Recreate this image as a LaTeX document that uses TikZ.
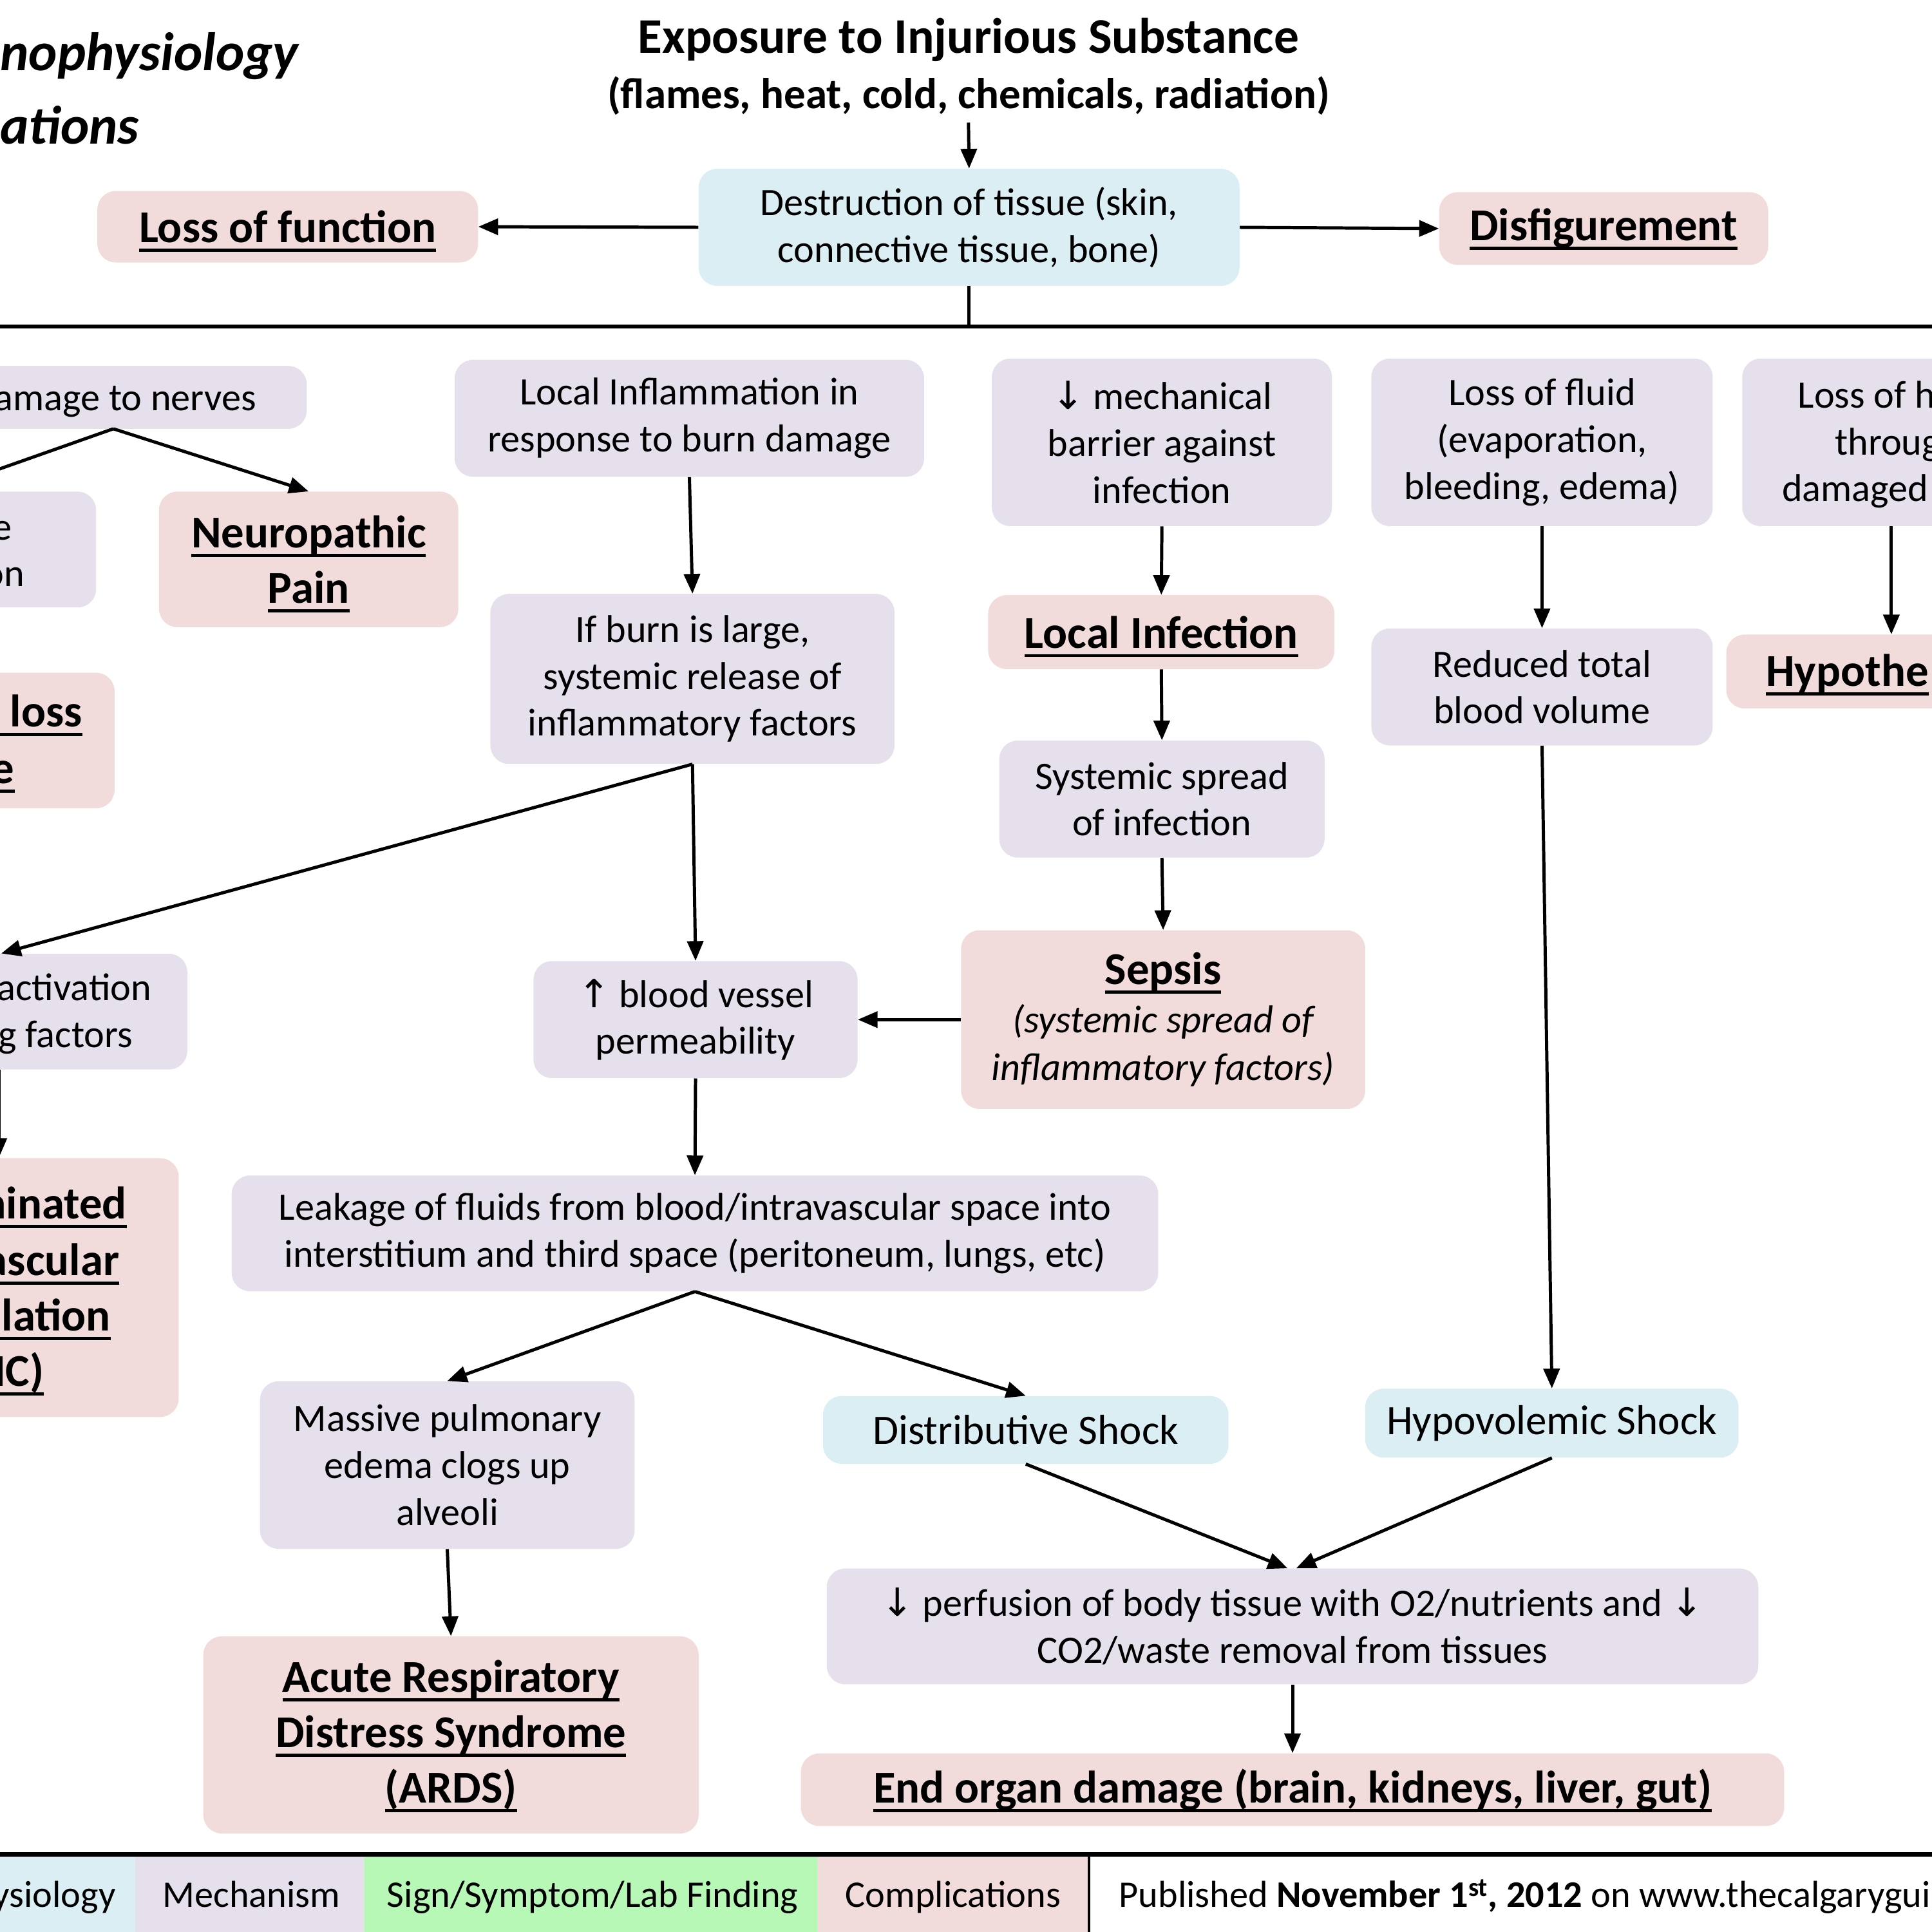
\documentclass[tikz,border=0pt]{standalone}
\usepackage{fontspec}
\setmainfont{Carlito}
\newfontfamily\symfont{DejaVu Sans}
\usetikzlibrary{arrows.meta,calc}
\definecolor{physc}{HTML}{DBEEF4}
\definecolor{mechc}{HTML}{E5E0EC}
\definecolor{compc}{HTML}{F2DCDB}
\definecolor{signc}{HTML}{B7F8B7}
\newcommand\fz[2]{\fontsize{#1}{#2}\selectfont}
\newcommand\ul[1]{\setbox0\hbox{#1}\rlap{\smash{\rule[-7.5pt]{\wd0}{2.6pt}}}\box0}
\tikzset{
 basebox/.style={rounded corners=15pt, inner sep=0pt, align=center, font=\fz{31.5}{38}},
 sz/.style 2 args={minimum width=#1pt, minimum height=#2pt},
 mbox/.style={basebox, fill=mechc},
 pbox/.style={basebox, fill=physc},
 cbox/.style={basebox, fill=compc, font=\bfseries\fz{37}{45}},
 lgcell/.style={inner sep=0pt, font=\fz{30.5}{36}},
 txt/.style={inner sep=0pt, font=\fz{31.5}{38}},
 btxt/.style={inner sep=0pt, font=\bfseries\fz{37}{45}},
 arr/.style={line width=2.6pt, -{Triangle[length=16pt,width=13pt]}},
 ln/.style={line width=2.6pt},
 thickrule/.style={line width=3.2pt},
}
\begin{document}
\begin{tikzpicture}[x=1pt,y=-1pt]
\useasboundingbox (0,0) rectangle (1568,1568);

% titles
\node[anchor=base west, inner sep=0pt, font=\bfseries\itshape\fz{44}{58}] (tl1) at (0,57) {nophysiology};
\node[anchor=base west, inner sep=0pt, font=\bfseries\itshape\fz{44}{58}] (tl2) at (0,117) {ations};
\node[inner sep=0pt, align=center, font=\bfseries\fz{35}{45}] (title) at (786,54) {{\fontsize{40.5}{45}\selectfont Exposure to Injurious Substance}\\(flames, heat, cold, chemicals, radiation)};

% top row
\node[pbox, sz={439}{95}] (dest) at (786.5,184.5) {Destruction of tissue (skin,\\connective tissue, bone)};
\node[cbox, sz={309}{58}] (lof) at (233.5,184) {\ul{Loss of function}};
\node[cbox, sz={267}{59}] (disf) at (1301.5,185.5) {\ul{Disfigurement}};
\coordinate (hub) at (786.5,265);

% left column (cut at the edge)
\node[mbox, sz={449}{51}] (nerves) at (24.5,322.5) {};
\node[txt, anchor=base east] (nervesT) at (208,333) {amage to nerves};
\coordinate (nv) at (92,348);
\node[mbox, sz={228}{94}] (sens) at (-36,446) {};
\node[txt, anchor=base east] (sensT1) at (10,438) {e};
\node[txt, anchor=base east] (sensT2) at (20,476) {on};
\node[cbox, sz={243}{110}] (neuro) at (250.5,454) {\ul{Neuropathic}\\\ul{Pain}};
\node[cbox, sz={243}{110}] (loss) at (-28.5,601) {};
\node[btxt, anchor=base east] (lossT1) at (67,590) {\ul{\phantom{ab} loss}};
\node[btxt, anchor=base east] (lossT2) at (12,636) {\ul{\phantom{ab}e}};
\node[mbox, sz={402}{94}] (act) at (-49,821) {};
\node[txt, anchor=base east] (actT1) at (123,812) {activation};
\node[txt, anchor=base east] (actT2) at (108,850) {g factors};
\node[cbox, sz={345}{210}] (dic) at (-27.5,1045) {};
\node[btxt, anchor=base east] (dicT1) at (103,989) {\ul{\phantom{ab}minated}};
\node[btxt, anchor=base east] (dicT2) at (97,1035) {\ul{\phantom{ab}ascular}};
\node[btxt, anchor=base east] (dicT3) at (90,1080) {\ul{\phantom{ab}ulation}};
\node[btxt, anchor=base east] (dicT4) at (36,1125) {\ul{\phantom{ab}DIC)}};

% inflammation column
\node[mbox, sz={381}{95}] (inflam) at (559.5,339.5) {Local Inflammation in\\response to burn damage};
\node[mbox, sz={328}{138}] (burn) at (562,551) {If burn is large,\\systemic release of\\inflammatory factors};
\node[mbox, sz={263}{95}] (perm) at (564.5,827.5) {{\symfont ↑} blood vessel\\permeability};
\node[mbox, sz={752}{94}] (leak) at (564,1001) {Leakage of fluids from blood/intravascular space into\\interstitium and third space (peritoneum, lungs, etc)};
\node[mbox, sz={304}{136}] (pulm) at (363,1189) {Massive pulmonary\\edema clogs up\\alveoli};
\node[cbox, sz={402}{160}] (ards) at (366,1408) {\ul{Acute Respiratory}\\\ul{Distress Syndrome}\\\ul{(ARDS)}};

% infection column
\node[mbox, sz={276}{136}] (mechb) at (943,359) {{\symfont ↓} mechanical\\barrier against\\infection};
\node[cbox, sz={281}{60}] (linf) at (942.5,513) {\ul{Local Infection}};
\node[mbox, sz={264}{95}] (sysinf) at (943,648.5) {Systemic spread\\of infection};
\node[cbox, sz={328}{145}, font=\itshape\fz{31.5}{39}] (sepsis) at (944,827.5) {{\upshape\bfseries\fontsize{37}{39}\selectfont\ul{Sepsis}}\\(systemic spread of\\inflammatory factors)};

% fluid column
\node[mbox, sz={277}{136}] (fluid) at (1251.5,359) {Loss of fluid\\(evaporation,\\bleeding, edema)};
\node[mbox, sz={277}{95}] (rbv) at (1251.5,557.5) {Reduced total\\blood volume};
\node[mbox, sz={286}{136}] (heat) at (1557,359) {};
\node[txt, anchor=base west] (heatT1) at (1459,331) {Loss of h};
\node[txt, anchor=base west] (heatT2) at (1489,369) {throug};
\node[txt, anchor=base west] (heatT3) at (1446,407) {damaged};
\node[cbox, sz={299}{60}] (hypo) at (1550.5,545) {};
\node[btxt, anchor=base west] (hypoT) at (1433,557) {\ul{Hypothe}};

% shock
\node[pbox, sz={329}{55}, font=\fz{34}{40}] (dshock) at (832.5,1160.5) {Distributive Shock};
\node[pbox, sz={303}{56}, font=\fz{34}{40}] (hshock) at (1259.5,1155) {Hypovolemic Shock};
\node[mbox, sz={756}{94}] (perf) at (1049,1320) {{\symfont ↓} perfusion of body tissue with O2/nutrients and {\symfont ↓}\\CO2/waste removal from tissues};
\node[cbox, sz={798}{59}] (eod) at (1049,1452.5) {\ul{End organ damage (brain, kidneys, liver, gut)}};

% connectors
\draw[arr] ($(title.south)+(0,6)$) -- (dest.north);
\draw[arr] (dest.west) -- (lof.east);
\draw[arr] (dest.east) -- (disf.west);
\draw[ln] (dest.south) -- (hub);
\draw[thickrule] (-10,265) -- (hub) -- (1580,265);
\draw[arr] (nv) -- ($(sens.north)+(-16,0)$);
\draw[arr] (nv) -- (neuro.north);
\draw[arr] (inflam.south) -- (burn.north);
\draw[arr] (burn.south) -- ($(act.north)+(50,0)$);
\draw[arr] (burn.south) -- (perm.north);
\draw[arr] ($(act.south)+(48,0)$) -- ($(dic.north)+(26.5,0)$);
\draw[arr] (sepsis.west) -- (perm.east);
\draw[arr] (perm.south) -- (leak.north);
\draw[arr] (leak.south) -- (pulm.north);
\draw[arr] (leak.south) -- (dshock.north);
\draw[arr] (pulm.south) -- (ards.north);
\draw[arr] (mechb.south) -- (linf.north);
\draw[arr] (linf.south) -- (sysinf.north);
\draw[arr] (sysinf.south) -- (sepsis.north);
\draw[arr] (fluid.south) -- (rbv.north);
\draw[arr] (rbv.south) -- (hshock.north);
\draw[arr] ($(heat.south)+(-22,0)$) -- ($(hypo.north)+(-15.5,0)$);
\draw[arr] (dshock.south) -- ($(perf.north)+(-4,0)$);
\draw[arr] (hshock.south) -- ($(perf.north)+(3,0)$);
\draw[arr] (perf.south) -- (eod.north);

% legend
\draw[thickrule] (-10,1505) -- (1580,1505);
\node[lgcell, fill=physc, sz={210}{75}] (lg1) at (5,1544.5) {};
\node[lgcell, anchor=base east] (lg1T) at (94,1548) {ysiology};
\node[lgcell, fill=mechc, sz={186}{75}] (lg2) at (203,1544.5) {};
\node[lgcell, anchor=base] (lg2T) at (204,1548) {Mechanism};
\node[lgcell, fill=signc, sz={367}{75}] (lg3) at (479.5,1544.5) {};
\node[lgcell, anchor=base] (lg3T) at (481,1548) {Sign/Symptom/Lab Finding};
\node[lgcell, fill=compc, sz={221}{75}] (lg4) at (773.5,1544.5) {};
\node[lgcell, anchor=base] (lg4T) at (773.5,1548) {Complications};
\draw[line width=2pt] (884,1507) -- (884,1580);
\node[lgcell, anchor=base west] (pub) at (908,1548) {Published \textbf{November 1\textsuperscript{st}, 2012} on www.thecalgarygui};
\end{tikzpicture}
\end{document}
